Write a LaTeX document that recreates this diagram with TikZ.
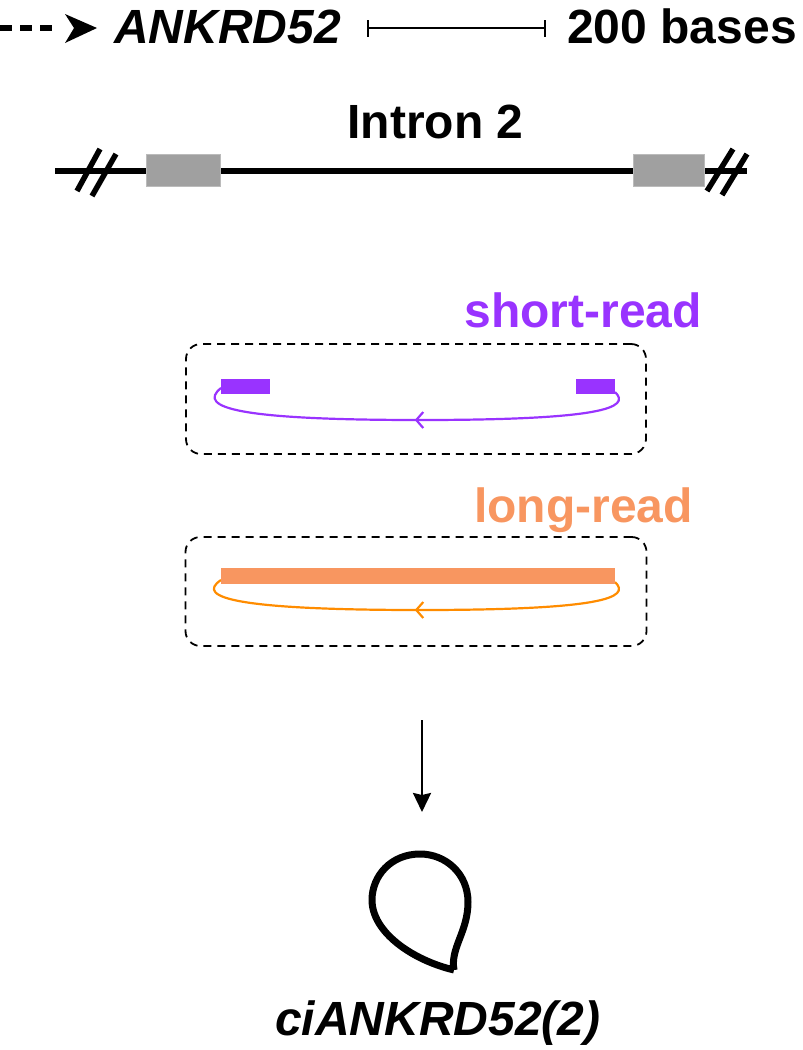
\documentclass[tikz,border=0pt]{standalone}
\usepackage{fontspec}
\setmainfont{Liberation Sans}
\usetikzlibrary{arrows.meta,decorations.markings}
\definecolor{purp}{HTML}{9933FF}
\definecolor{orlight}{HTML}{F89660}
\definecolor{ordark}{HTML}{FF8C00}
\definecolor{exgray}{HTML}{A0A0A0}
\definecolor{exedge}{HTML}{BBBBBB}
\tikzset{
  bigtxt/.style={inner sep=0pt, font=\fontsize{48}{57}\selectfont\bfseries},
  dashbox/.style={draw=black, line width=1.8pt, dash pattern=on 8pt off 6pt, rounded corners=15pt},
  exonbox/.style={fill=exgray, draw=exedge, line width=0.8pt},
  slashmark/.style={line width=5.5pt},
  midarrow/.style={postaction={decorate}, decoration={markings,
      mark=at position 0.5 with {\arrow{Straight Barb[length=7pt,width=16pt,line width=2.2pt]}}}},
  juncarc/.style={line width=2.2pt, midarrow}
}
\begin{document}
\begin{tikzpicture}[x=1pt,y=-1pt]
\useasboundingbox (0,0) rectangle (803,1050);
% legend row
\draw[line width=6pt, dash pattern=on 12pt off 8pt] (0,28) -- (53,28);
\fill (65,14) -- (97,28) -- (65,43) -- (74,28) -- cycle;
\node[bigtxt, anchor=base west] (gene) at (114,43) {\itshape ANKRD52};
\coordinate (sbL) at (368,28);
\coordinate (sbR) at (545,28);
\draw[line width=2pt] (sbL) -- (sbR);
\draw[line width=2pt] ([yshift=-8.5pt]sbL) -- ([yshift=8.5pt]sbL);
\draw[line width=2pt] ([yshift=-8.5pt]sbR) -- ([yshift=8.5pt]sbR);
\node[bigtxt, anchor=base east] (scale) at (797,43) {200 bases};
% intron
\node[bigtxt, anchor=base] (intron) at (435.5,138) {Intron 2};
\coordinate (lnL) at (55,171);
\coordinate (lnR) at (747,171);
\draw[line width=6pt] (lnL) -- (lnR);
\node[exonbox, minimum width=74pt, minimum height=32pt, inner sep=0pt] (ex1) at (183,170) {};
\node[exonbox, minimum width=71pt, minimum height=32pt, inner sep=0pt] (ex2) at (668.5,170) {};
\draw[slashmark] (77,191) -- (100,149);
\draw[slashmark] (92,196) -- (116,154);
\draw[slashmark] (707,191) -- (733,149);
\draw[slashmark] (722,195) -- (747,154);
% short-read
\node[bigtxt, anchor=base east, text=purp] (srlab) at (702,327) {short-read};
\node[dashbox, minimum width=460pt, minimum height=110pt, inner sep=0pt] (srbox) at (416,399) {};
\fill[purp] (221,379) rectangle (270,394);
\fill[purp] (576,379) rectangle (615,394);
\draw[purp, juncarc] (615,392) .. controls (632,408) and (600,420) .. (420,420)
   .. controls (240,420) and (196,408) .. (221,388);
% long-read
\node[bigtxt, anchor=base east, text=orlight] (lrlab) at (693,522) {long-read};
\node[dashbox, minimum width=461pt, minimum height=109pt, inner sep=0pt] (lrbox) at (416,591.5) {};
\draw[ordark, juncarc] (615,582) .. controls (632,598) and (600,610) .. (420,610)
   .. controls (240,610) and (194,598) .. (221,580);
\fill[orlight] (221,568) rectangle (615,584);
% arrow down
\coordinate (arrS) at (422,720);
\coordinate (arrE) at (422,812);
\draw[line width=2.5pt, -{Stealth[length=19pt,width=18pt,inset=2pt]}] (arrS) -- (arrE);
% circular intron
\coordinate (tip) at (454,970);
\draw[line width=7pt, line join=round] (tip) .. controls (450,948) and (468,932) .. (468,902)
  .. controls (468,874) and (446,854) .. (420,854)
  .. controls (391,854) and (372,876) .. (372,900)
  .. controls (372,932) and (412,960) .. (tip);
\node[bigtxt, anchor=base west] (circ) at (275,1035) {\itshape ciANKRD52(2)};
\end{tikzpicture}
\end{document}
